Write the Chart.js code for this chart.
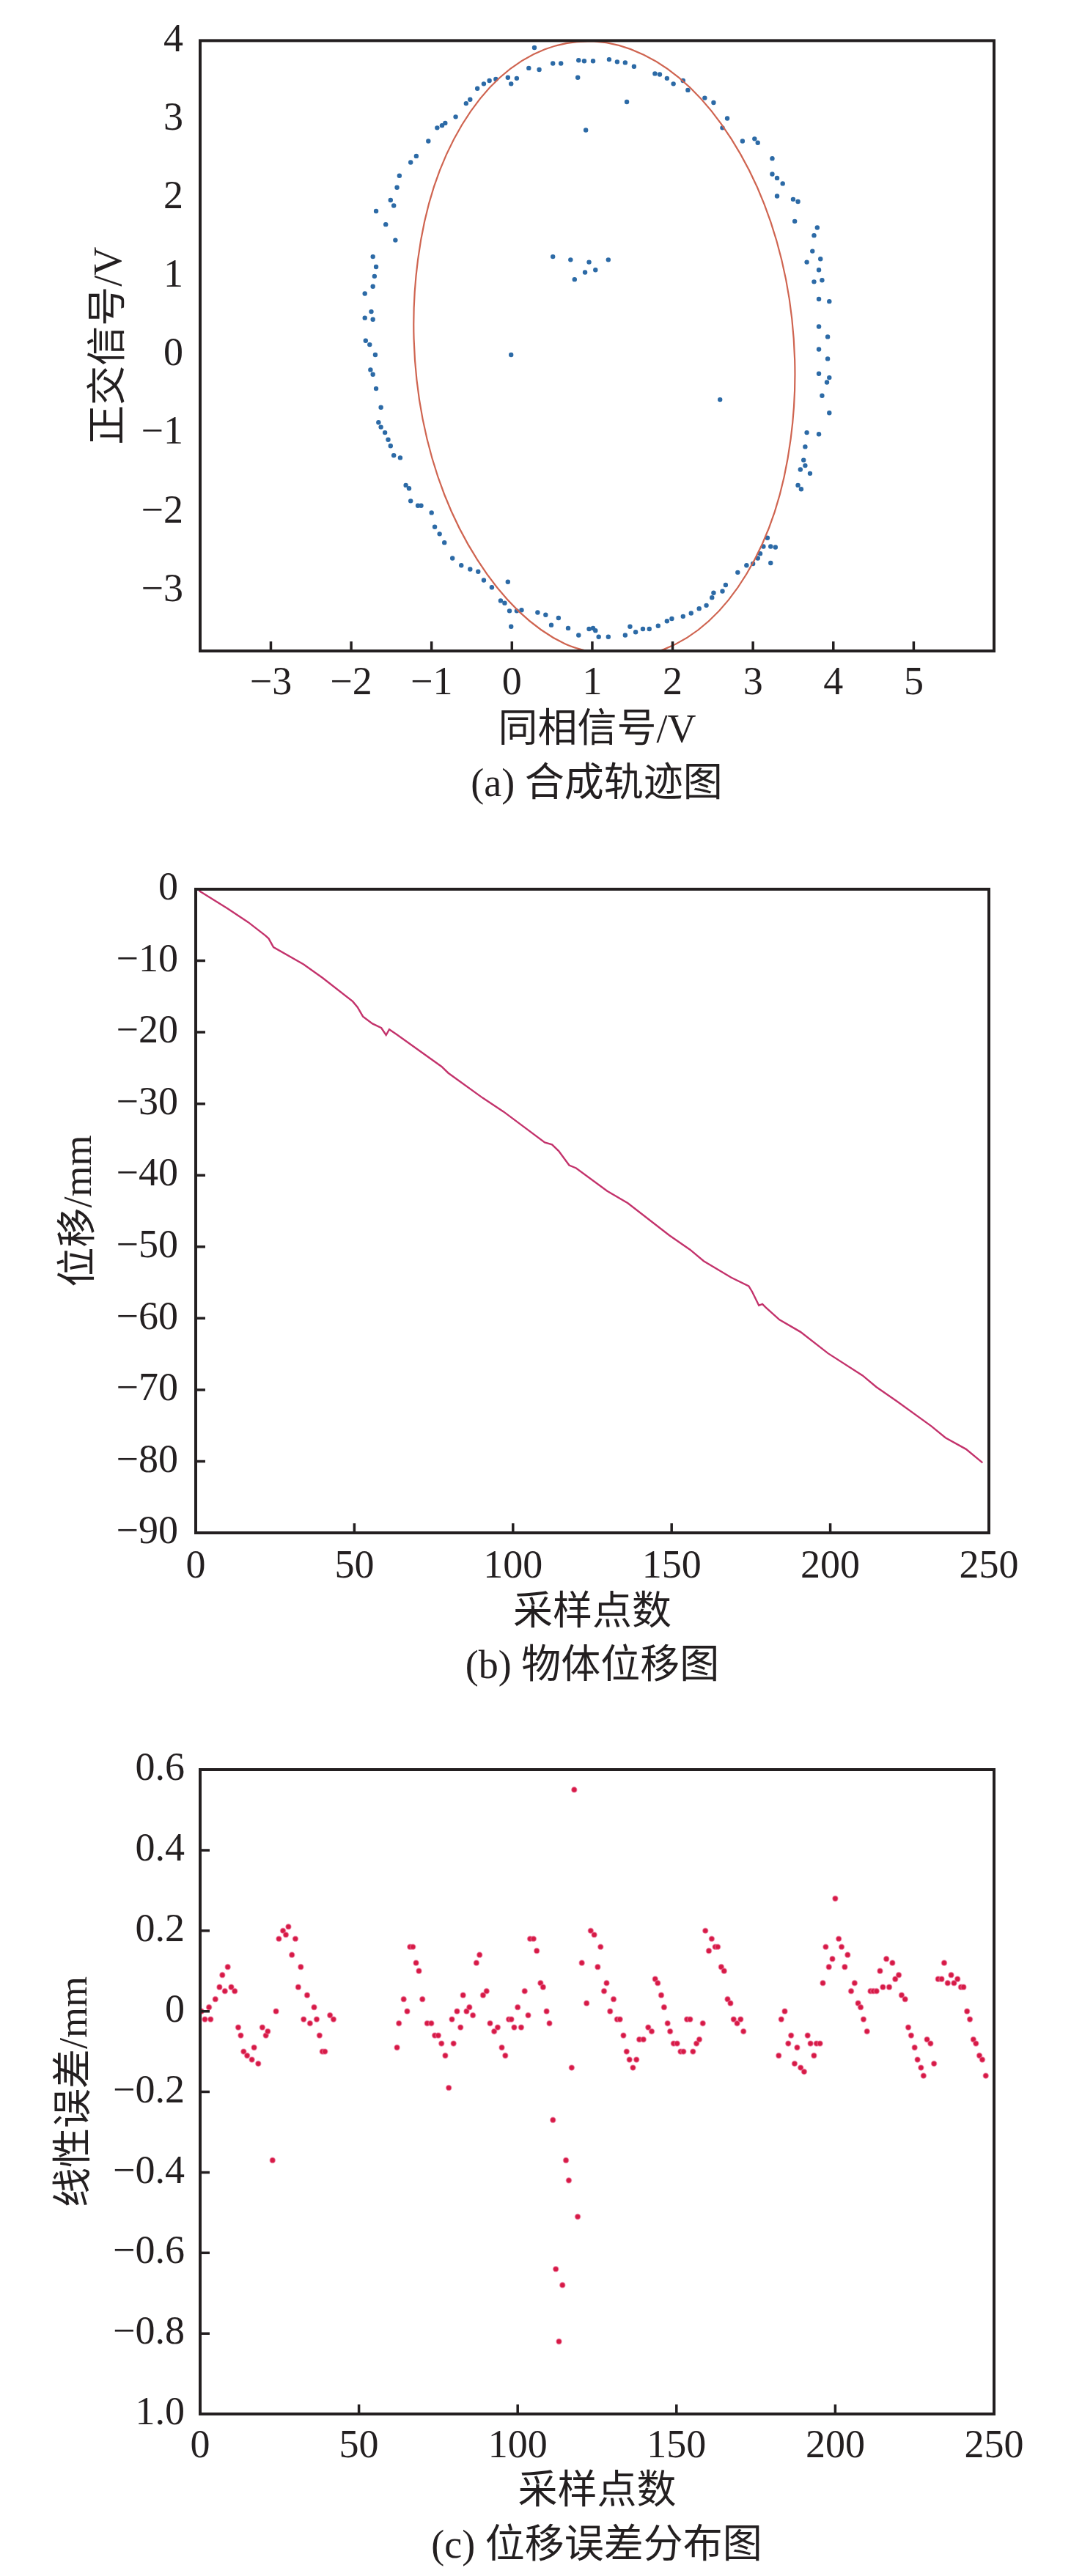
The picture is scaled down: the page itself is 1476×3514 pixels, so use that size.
<!DOCTYPE html>
<html lang="zh-CN">
<head>
<meta charset="utf-8">
<title>合成轨迹图 / 物体位移图 / 位移误差分布图</title>
<script src="https://cdn.jsdelivr.net/npm/chart.js@4.4.1/dist/chart.umd.min.js"></script>
<style>
  html, body { margin: 0; padding: 0; background: #fff; }
  body { position: relative; width: 1476px; height: 3514px; overflow: hidden; }
  .panel { position: absolute; left: 0; width: 1476px; }
  .panel canvas { display: block; }
  .caption {
    position: absolute; width: 800px; text-align: center; white-space: nowrap;
    font-size: 54px; line-height: 64.8px; color: #231f20;
    font-family: "Liberation Serif", "Times New Roman", Tinos, "DejaVu Serif", "Noto Sans CJK SC", serif;
  }
</style>
</head>
<body>
<script>
// (a) 合成轨迹图 - sampled points (同相 I, 正交 Q)
const A_I = [
  0.28, 0.21, 0.34, 0.51, 0.61, 0.83, 0.90, 1.01, 0.82, 1.21, 1.31, 1.41, 1.52, 1.43, 0.92,
  1.78, 1.84, 1.93, 2.01, 2.13, 2.19, 2.40, 2.51, 2.68, 2.62, 2.87, 3.02, 3.06, 3.24, 3.24, 3.30, 3.37, 3.30, 3.50, 3.56, 3.52,
  3.80, 3.76, 3.74, 3.67, 3.84, 3.82, 3.86, 3.76, 3.82, 3.95, 3.93, 3.82, 3.82, 3.93, 3.82, 3.95, 3.92, 3.86, 3.95, 3.67, 3.82, 3.65, 3.63, 3.65, 3.59, 3.71, 3.56, 3.60,
  3.18, 3.13, 3.22, 3.28, 3.09, 3.06, 3.22, 3.00, 2.92, 2.81, 2.66, 2.62, 2.51, 2.49, 2.42, 2.33, 2.23, 2.13, 1.99, 1.93, 1.82, 1.71, 1.63, 1.54, 1.47, 1.41, 1.20,
  1.01, 1.04, 1.08, 0.96, 0.83, 0.70, 0.58, 0.49, 0.42, 0.32, 0.12, 0.06, -0.01, -0.03, -0.09, -0.14, -0.05, -0.25, -0.35, -0.42, -0.52, -0.63, -0.74, -0.84, -0.90, -0.96, -1.00, -1.13, -1.17, -1.26, -1.28, -1.32,
  -1.39, -1.47, -1.51, -1.54, -1.58, -1.63, -1.66, -1.63, -1.69, -1.73, -1.76, -1.70, -1.77, -1.82, -1.83, -1.73, -1.75, -1.83, -1.73, -1.71, -1.69, -1.73,
  -1.45, -1.57, -1.69, -1.47, -1.51, -1.43, -1.40, -1.26, -1.19, -1.04, -0.93, -0.87, -0.83, -0.70, -0.57, -0.52, -0.43, -0.35, -0.28, -0.20, -0.05, -0.01, 0.06,
  0.51, 0.73, 0.78, 0.91, 0.96, 1.04, 1.20, -0.01, 2.59
];
const A_Q = [
  3.91, 3.65, 3.63, 3.71, 3.71, 3.75, 3.74, 3.74, 3.53, 3.76, 3.73, 3.72, 3.67, 3.22, 2.86,
  3.58, 3.57, 3.52, 3.45, 3.49, 3.37, 3.27, 3.21, 3.01, 2.89, 2.72, 2.75, 2.70, 2.50, 2.30, 2.25, 2.18, 2.02, 1.98, 1.95, 1.70,
  1.62, 1.52, 1.32, 1.18, 1.22, 1.08, 0.95, 0.93, 0.71, 0.68, 0.23, 0.36, 0.07, -0.05, -0.24, -0.29, -0.35, -0.52, -0.74, -0.99, -1.01, -1.17, -1.34, -1.41, -1.46, -1.51, -1.66, -1.71,
  -2.33, -2.44, -2.44, -2.45, -2.53, -2.59, -2.65, -2.66, -2.68, -2.77, -2.93, -3.01, -3.03, -3.09, -3.19, -3.23, -3.29, -3.33, -3.36, -3.39, -3.45, -3.49, -3.49, -3.53, -3.46, -3.57, -3.59,
  -3.48, -3.51, -3.59, -3.49, -3.57, -3.48, -3.35, -3.44, -3.31, -3.28, -3.25, -3.26, -3.46, -3.26, -3.16, -3.13, -2.89, -2.96, -2.87, -2.76, -2.73, -2.68, -2.59, -2.39, -2.28, -2.19, -2.01, -1.92, -1.92, -1.86, -1.70, -1.66,
  -1.31, -1.28, -1.16, -1.08, -0.99, -0.92, -0.86, -0.67, -0.43, -0.25, -0.19, 0.00, 0.13, 0.18, 0.47, 0.45, 0.55, 0.78, 0.87, 1.00, 1.12, 1.25,
  1.46, 1.66, 1.83, 1.90, 1.97, 2.13, 2.28, 2.45, 2.53, 2.72, 2.89, 2.92, 2.95, 3.03, 3.20, 3.25, 3.39, 3.45, 3.49, 3.51, 3.53, 3.45, 3.52,
  1.25, 1.21, 0.96, 1.05, 1.18, 1.08, 1.21, 0.00, -0.57
];
// fitted ellipse, points (starts/ends below the axis)
const FIT_I = [1.28, 1.89, 2.45, 2.92, 3.27, 3.47, 3.52, 3.41, 3.14, 2.73, 2.22, 1.64, 1.02, 0.41, -0.15, -0.62, -0.97, -1.17, -1.22, -1.11, -0.84, -0.43, 0.08, 0.66, 1.28];
const FIT_Q = [-3.85, -3.75, -3.39, -2.79, -2.00, -1.07, -0.06, 0.96, 1.92, 2.75, 3.40, 3.82, 3.99, 3.89, 3.53, 2.93, 2.14, 1.21, 0.20, -0.82, -1.78, -2.61, -3.26, -3.68, -3.85];
const A_X_TICKS = [-3, -2, -1, 0, 1, 2, 3, 4, 5];
const A_X_LABELS = ['−3', '−2', '−1', '0', '1', '2', '3', '4', '5'];
const A_Y_TICKS = [-3, -2, -1, 0, 1, 2, 3, 4];
const A_Y_LABELS = ['−3', '−2', '−1', '0', '1', '2', '3', '4'];

// (b) 物体位移图
const B_SAMPLE = [1, 10, 16.5, 22, 23, 24.5, 34, 40, 49.5, 51, 52.7, 55.7, 58.5, 60, 61, 63.3, 77.5, 79.6, 90.5, 97,
  110, 112.3, 114.4, 117.7, 119.9, 129.7, 136.2, 149.3, 155.8, 160.1, 168.8, 174.3, 175.4, 177.5, 178.6, 179.7, 184, 190.6, 199.3, 210.2,
  214.5, 221, 231.9, 236.3, 242.8, 248];
const B_DISP = [-0.2, -2.7, -4.6, -6.5, -6.9, -8.1, -10.5, -12.4, -15.7, -16.5, -17.8, -18.8, -19.4, -20.4, -19.6, -20.3, -24.8, -25.7, -29.2, -31.1,
  -35.4, -35.7, -36.6, -38.6, -39.0, -42.2, -43.9, -48.4, -50.4, -52.0, -54.3, -55.5, -56.3, -58.2, -58.0, -58.5, -60.2, -61.9, -64.9, -68.0,
  -69.6, -71.6, -75.1, -76.7, -78.3, -80.2];
const B_X_TICKS = [0, 50, 100, 150, 200, 250];
const B_X_LABELS = ['0', '50', '100', '150', '200', '250'];
const B_Y_TICKS = [-90, -80, -70, -60, -50, -40, -30, -20, -10, 0];
const B_Y_LABELS = ['−90', '−80', '−70', '−60', '−50', '−40', '−30', '−20', '−10', '0'];

// (c) 位移误差分布图
const C_SAMPLE = [
  0.4, 1.5, 3.3, 2.8, 4.8, 6.1, 7.0, 7.8, 8.7, 9.8, 10.9, 12.0, 12.8, 13.7, 14.8, 16.3, 17.0, 18.3, 19.6, 20.7,
  21.3, 22.8, 23.9, 24.8, 26.1, 27.0, 27.8, 28.9, 30.0, 30.9, 31.7, 32.6, 33.7, 34.6, 35.9, 36.7, 37.6, 38.5, 39.3, 40.9, 42.0,
  62.0, 62.6, 64.1, 65.2, 66.1, 67.0, 68.0, 68.9, 70.0, 71.5, 72.8, 73.9, 75.0, 76.0, 77.2, 78.3, 79.8, 79.3, 80.9, 82.0,
  82.8, 83.9, 84.8, 85.9, 87.0, 88.0, 89.1, 90.2, 91.3, 92.6, 93.7, 95.0, 96.1, 97.2, 98.0, 98.9, 100.0, 101.1, 102.2, 103.3,
  103.9, 105.0, 106.0, 107.2, 108.0, 109.1, 110.0,
  111.1, 112.0, 113.0, 114.1, 115.2, 116.1, 117.0, 117.8, 118.9, 120.2, 121.7, 123.0, 124.1, 125.2, 126.1, 127.2, 128.0, 129.1, 130.2, 131.3,
  132.2, 133.3, 134.3, 135.2, 136.3, 137.4, 138.3, 139.6, 141.1, 142.2, 143.3, 144.1, 145.2, 146.1, 147.2, 148.0, 149.1, 150.2, 151.3, 152.2,
  153.3, 154.3, 155.2, 156.3, 157.2, 158.3, 159.1, 160.2, 161.1, 162.2, 163.0, 164.1, 165.0, 166.1, 167.0, 168.0, 169.1, 170.2, 171.1,
  182.2, 183.0, 184.1, 185.2, 186.1, 187.2, 188.0, 189.1, 190.2, 191.3, 192.2, 193.3, 194.1, 195.2, 196.1, 197.0, 198.0, 199.1, 200.0, 201.1,
  202.0, 203.0, 203.9, 205.0, 206.1, 207.2, 208.0, 208.9, 210.0, 211.1, 212.0, 213.0, 214.1, 215.0, 216.1, 217.0, 218.0, 218.9, 220.0, 220.9,
  222.0, 223.0, 223.9, 225.0, 225.9, 227.0, 227.8, 228.9, 230.0, 231.1, 232.4, 233.5, 234.3, 235.4, 236.5, 237.4, 238.5, 239.6, 240.4, 241.5,
  242.4, 243.5, 244.3, 245.4, 246.3, 247.4
];
const C_ERR = [
  0.00, -0.02, -0.02, 0.01, 0.03, 0.06, 0.09, 0.05, 0.11, 0.06, 0.05, -0.04, -0.06, -0.10, -0.11, -0.12, -0.09, -0.13, -0.04, -0.06,
  -0.05, -0.37, 0.00, 0.18, 0.20, 0.19, 0.21, 0.14, 0.18, 0.06, 0.11, -0.02, 0.04, -0.03, 0.01, -0.02, -0.06, -0.10, -0.10, -0.01, -0.02,
  -0.09, -0.03, 0.03, 0.00, 0.16, 0.16, 0.12, 0.10, 0.03, -0.03, -0.03, -0.06, -0.06, -0.08, -0.11, -0.19, -0.08, -0.02, 0.00, -0.04,
  0.04, 0.00, 0.01, -0.01, 0.12, 0.14, 0.04, 0.05, -0.03, -0.05, -0.04, -0.09, -0.11, -0.02, -0.02, -0.04, 0.01, -0.04, 0.05, -0.01,
  0.18, 0.18, 0.15, 0.07, 0.06, 0.00, -0.03,
  -0.27, -0.64, -0.82, -0.68, -0.37, -0.42, -0.14, 0.55, -0.51, 0.12, 0.02, 0.20, 0.19, 0.11, 0.16, 0.05, 0.07, 0.00, 0.03, -0.02,
  -0.02, -0.06, -0.10, -0.12, -0.14, -0.12, -0.07, -0.07, -0.04, -0.05, 0.08, 0.07, 0.04, 0.01, -0.03, -0.05, -0.08, -0.08, -0.10, -0.10,
  -0.02, -0.02, -0.10, -0.08, -0.07, -0.03, 0.20, 0.15, 0.18, 0.16, 0.16, 0.11, 0.10, 0.03, 0.02, -0.02, -0.03, -0.02, -0.05,
  -0.11, -0.02, 0.00, -0.08, -0.06, -0.13, -0.09, -0.14, -0.15, -0.06, -0.08, -0.11, -0.08, -0.08, 0.07, 0.16, 0.11, 0.13, 0.28, 0.18,
  0.16, 0.11, 0.14, 0.05, 0.07, 0.02, 0.01, -0.02, -0.05, 0.05, 0.05, 0.05, 0.10, 0.06, 0.13, 0.06, 0.12, 0.08, 0.09, 0.04,
  0.03, -0.04, -0.06, -0.09, -0.12, -0.14, -0.16, -0.07, -0.08, -0.13, 0.08, 0.08, 0.12, 0.07, 0.09, 0.07, 0.08, 0.06, 0.06, 0.00,
  -0.02, -0.07, -0.08, -0.11, -0.12, -0.16
];
const C_X_TICKS = [0, 50, 100, 150, 200, 250];
const C_X_LABELS = ['0', '50', '100', '150', '200', '250'];
const C_Y_TICKS = [-1, -0.8, -0.6, -0.4, -0.2, 0, 0.2, 0.4, 0.6];
const C_Y_LABELS = ['1.0', '−0.8', '−0.6', '−0.4', '−0.2', '0', '0.2', '0.4', '0.6'];

const FONT = '"Liberation Serif", "Times New Roman", Tinos, "DejaVu Serif", "Noto Sans CJK SC", serif';
const INK = '#231f20';

const pts = (xs, ys) => xs.map((x, i) => ({ x: x, y: ys[i] }));

// box round the plot + short ticks pointing inward
const innerFrame = {
  id: 'innerFrame',
  afterDraw(chart, args, opts) {
    const { ctx, chartArea: a, scales } = chart;
    ctx.save();
    ctx.strokeStyle = INK;
    ctx.lineWidth = 3.5;
    ctx.beginPath();
    (opts.xTicks || []).forEach(v => {
      const p = scales.x.getPixelForValue(v);
      ctx.moveTo(p, a.bottom);
      ctx.lineTo(p, a.bottom - 13);
    });
    (opts.yTicks || []).forEach(v => {
      const p = scales.y.getPixelForValue(v);
      ctx.moveTo(a.left, p);
      ctx.lineTo(a.left + 13, p);
    });
    ctx.stroke();
    ctx.lineWidth = 4;
    ctx.strokeRect(a.left, a.top, a.right - a.left, a.bottom - a.top);
    ctx.restore();
  }
};

function buildPanel(p) {
  const box = document.createElement('div');
  box.className = 'panel';
  box.style.top = p.top + 'px';
  box.style.height = p.height + 'px';
  const cv = document.createElement('canvas');
  cv.width = 1476;
  cv.height = p.height;
  box.appendChild(cv);
  document.body.appendChild(box);

  const cap = document.createElement('div');
  cap.className = 'caption';
  cap.textContent = p.caption;
  cap.style.left = (p.capX - 400) + 'px';
  cap.style.top = (p.capY - 32.4) + 'px';
  document.body.appendChild(cap);

  const font = { family: FONT, size: 54, lineHeight: 1.2 };

  return new Chart(cv, {
    type: 'scatter',
    data: { datasets: p.datasets },
    options: {
      responsive: false,
      animation: false,
      devicePixelRatio: 1,
      layout: { padding: { left: 0, right: p.padRight, top: p.padTop, bottom: 0 } },
      plugins: {
        legend: { display: false },
        tooltip: { enabled: false },
        innerFrame: { xTicks: p.x.inner, yTicks: p.y.inner }
      },
      scales: {
        x: {
          type: 'linear', min: p.x.min, max: p.x.max,
          grid: { display: false, drawTicks: false }, border: { display: false },
          afterBuildTicks: s => { s.ticks = p.x.ticks.map(v => ({ value: v })); },
          afterFit: s => { s.height = p.x.size; },
          ticks: {
            font: font, color: INK, padding: p.x.pad, maxRotation: 0, autoSkip: false,
            callback: v => p.x.labels[p.x.ticks.indexOf(v)]
          },
          title: { display: true, text: p.x.title, font: font, color: INK, padding: { top: 0, bottom: 0 } }
        },
        y: {
          type: 'linear', min: p.y.min, max: p.y.max,
          grid: { display: false, drawTicks: false }, border: { display: false },
          afterBuildTicks: s => { s.ticks = p.y.ticks.map(v => ({ value: v })); },
          afterFit: s => { s.width = p.y.size; },
          ticks: {
            font: font, color: INK, padding: p.y.pad, autoSkip: false,
            callback: v => p.y.labels[p.y.ticks.indexOf(v)]
          },
          title: { display: true, text: p.y.title, font: font, color: INK, padding: { top: p.y.titleGap, bottom: 0 } }
        }
      }
    },
    plugins: [innerFrame]
  });
}

// (a)
buildPanel({
  top: 0, height: 1030, padTop: 35, padRight: 120,
  caption: '(a) 合成轨迹图', capX: 814, capY: 1068,
  x: { min: -3.88, max: 6.0, ticks: A_X_TICKS, labels: A_X_LABELS, inner: A_X_TICKS,
       size: 142, pad: 12, title: '同相信号/V' },
  y: { min: -3.77, max: 4, ticks: A_Y_TICKS, labels: A_Y_LABELS, inner: [],
       size: 273, pad: 23, title: '正交信号/V', titleGap: 118 },
  datasets: [
    { data: pts(A_I, A_Q), pointRadius: 3.2, pointBackgroundColor: '#2c6aa6', pointBorderWidth: 0, order: 2 },
    { data: pts(FIT_I, FIT_Q), showLine: true, tension: 0.34, borderColor: '#cf6450', borderWidth: 2.2,
      pointRadius: 0, fill: false, order: 1 }
  ]
});

// (b)
buildPanel({
  top: 1140, height: 1094, padTop: 73, padRight: 127,
  caption: '(b) 物体位移图', capX: 808, capY: 2271,
  x: { min: 0, max: 250, ticks: B_X_TICKS, labels: B_X_LABELS, inner: [50, 100, 150, 200],
       size: 143, pad: 14, title: '采样点数' },
  y: { min: -90, max: 0, ticks: B_Y_TICKS, labels: B_Y_LABELS, inner: [-80, -70, -60, -50, -40, -30, -20, -10],
       size: 267, pad: 24, title: '位移/mm', titleGap: 77 },
  datasets: [
    { data: pts(B_SAMPLE, B_DISP), showLine: true, tension: 0, borderColor: '#c3326b', borderWidth: 2.4,
      pointRadius: 0, fill: false }
  ]
});

// (c)
buildPanel({
  top: 2340, height: 1093, padTop: 74, padRight: 120,
  caption: '(c) 位移误差分布图', capX: 814, capY: 3471,
  x: { min: 0, max: 250, ticks: C_X_TICKS, labels: C_X_LABELS, inner: [50, 100, 150, 200],
       size: 140, pad: 12, title: '采样点数' },
  y: { min: -1, max: 0.6, ticks: C_Y_TICKS, labels: C_Y_LABELS, inner: [-0.8, -0.6, -0.4, -0.2, 0, 0.2, 0.4],
       size: 273, pad: 21, title: '线性误差/mm', titleGap: 71 },
  datasets: [
    { data: pts(C_SAMPLE, C_ERR), pointRadius: 3.6, pointBackgroundColor: '#d61a45',
      pointBorderColor: 'rgba(238,120,160,0.55)', pointBorderWidth: 1.5 }
  ]
});
</script>
</body>
</html>
